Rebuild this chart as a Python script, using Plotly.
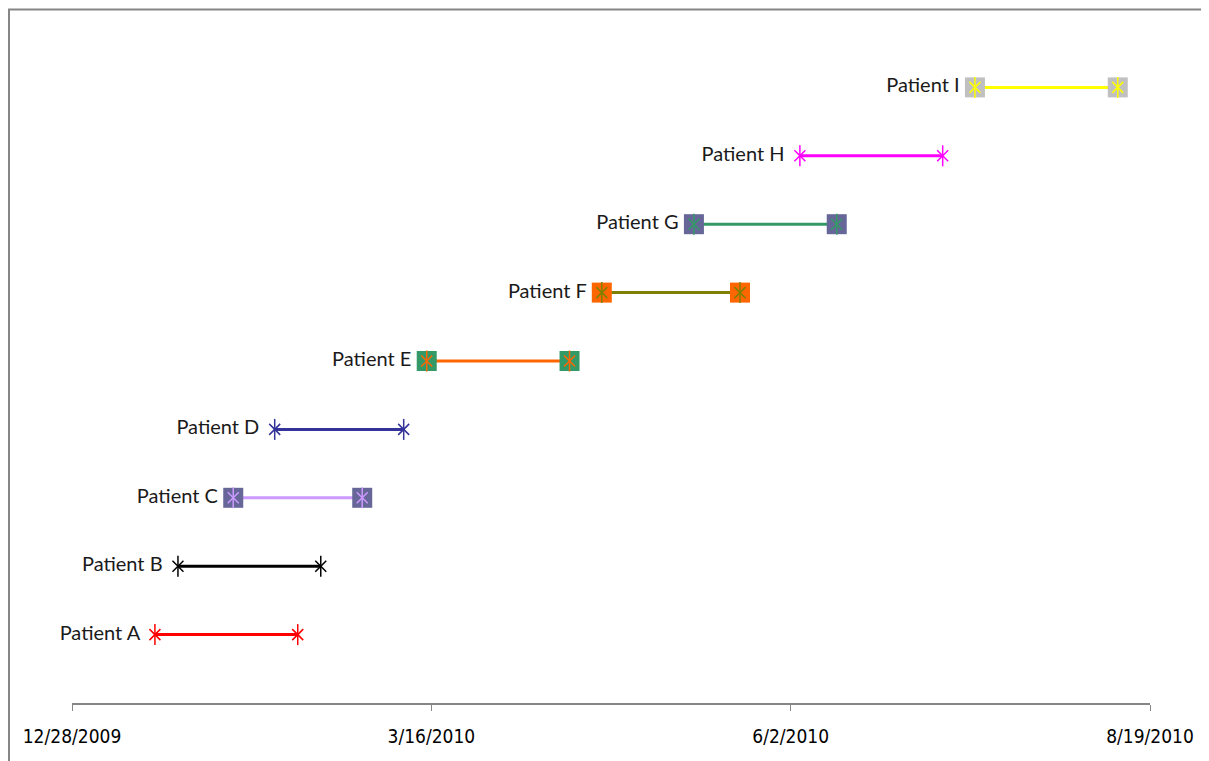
import plotly.graph_objects as go

patients = ["Patient A", "Patient B", "Patient C", "Patient D", "Patient E",
            "Patient F", "Patient G", "Patient H", "Patient I"]
start_dates = ["2010-01-15", "2010-01-20", "2010-02-01", "2010-02-10", "2010-03-15",
               "2010-04-22", "2010-05-12", "2010-06-04", "2010-07-12"]
end_dates = ["2010-02-15", "2010-02-20", "2010-03-01", "2010-03-10", "2010-04-15",
             "2010-05-22", "2010-06-12", "2010-07-05", "2010-08-12"]
rows = [1, 2, 3, 4, 5, 6, 7, 8, 9]
tick_vals = ["2009-12-28", "2010-03-16", "2010-06-02", "2010-08-19"]
tick_text = ["12/28/2009", "3/16/2010", "6/2/2010", "8/19/2010"]

line_colors = ["#FF0000", "#000000", "#CC99FF", "#333399", "#FF6600",
               "#808000", "#339966", "#FF00FF", "#FFFF00"]
box_colors = [None, None, "#666699", None, "#339966", "#FF6600", "#666699", None, "#C0C0C0"]

fig = go.Figure()
for p, s, e, r, lc, bc in zip(patients, start_dates, end_dates, rows, line_colors, box_colors):
    xs = [s, e]
    ys = [r, r]
    fig.add_trace(go.Scatter(x=xs, y=ys, mode="lines", line=dict(color=lc, width=3),
                             hoverinfo="skip", showlegend=False))
    if bc:
        fig.add_trace(go.Scatter(x=xs, y=ys, mode="markers",
                                 marker=dict(symbol="square", size=20, color=bc, line=dict(width=0)),
                                 showlegend=False, hoverinfo="skip"))
    fig.add_trace(go.Scatter(x=xs, y=ys, mode="markers",
                             marker=dict(symbol="x-thin-open", size=11, color=lc,
                                         line=dict(color=lc, width=1.5)),
                             showlegend=False, hoverinfo="skip"))
    fig.add_trace(go.Scatter(x=xs, y=ys, mode="markers",
                             marker=dict(symbol="line-ns-open", size=15, color=lc,
                                         line=dict(color=lc, width=1.5)),
                             showlegend=False, hoverinfo="skip"))
    fig.add_trace(go.Scatter(x=[s], y=[r], mode="text", text=[p + "   "],
                             textposition="middle left", cliponaxis=False,
                             textfont=dict(family="Lato, Calibri, sans-serif", size=20, color="#1a1a1a"),
                             showlegend=False, hoverinfo="skip"))

fig.update_layout(
    width=1209, height=761,
    margin=dict(l=64, r=67, t=11, b=66),
    paper_bgcolor="white", plot_bgcolor="white",
    xaxis=dict(type="date", range=["2009-12-28", "2010-08-19"],
               tickmode="array", tickvals=tick_vals, ticktext=tick_text,
               showgrid=False, zeroline=False, showline=True, linecolor="#868686", linewidth=2,
               ticks="outside", ticklen=6, tickcolor="#868686", tickwidth=1,
               ticklabelstandoff=9,
               tickfont=dict(family="Liberation Sans Narrow, DejaVu Sans Condensed, sans-serif",
                             size=19, color="#000000")),
    yaxis=dict(range=[0, 10], visible=False, showgrid=False, zeroline=False),
    shapes=[dict(type="rect", xref="paper", yref="paper",
                 x0=(-63) / 1078, x1=1.2, y0=-0.2, y1=1 + 9.5 / 684,
                 line=dict(color="#868686", width=2), fillcolor="rgba(0,0,0,0)", layer="below")],
)

fig.write_html("out.html")
